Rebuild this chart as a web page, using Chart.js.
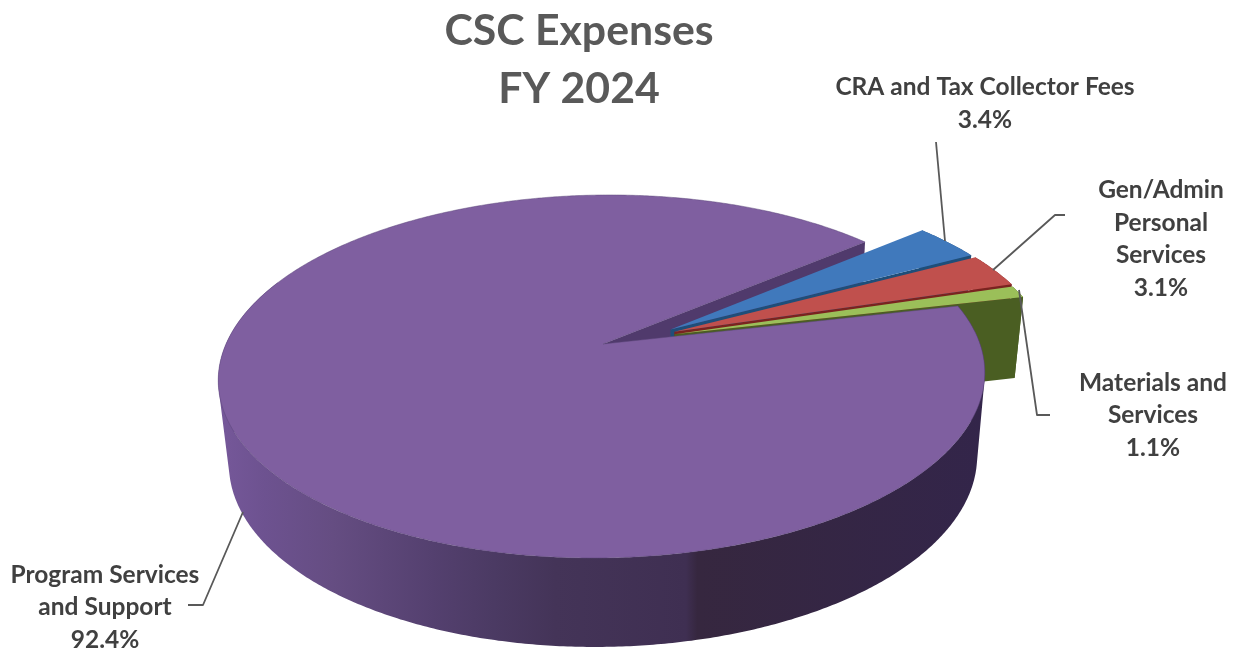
<!DOCTYPE html>
<html>
<head>
<meta charset="utf-8">
<style>html,body{margin:0;padding:0;background:#fff}canvas{display:block}</style>
<script src="https://cdn.jsdelivr.net/npm/chart.js@4"></script>
</head>
<body>
<canvas id="c" width="1241" height="649"></canvas>
<script>
const categories = ['Program Services and Support', 'CRA and Tax Collector Fees', 'Gen/Admin Personal Services', 'Materials and Services'];
const values = [92.4, 3.4, 3.1, 1.1];
const titleLines = ['CSC Expenses', 'FY 2024'];
const labelLines = [['Program Services', 'and Support'], ['CRA and Tax Collector Fees'], ['Gen/Admin', 'Personal', 'Services'], ['Materials and', 'Services']];
const colors = ['#7F5FA0', '#4079BC', '#C0504D', '#9BBF59'];
const wallColors = ['#43325a', '#1F4E79', '#7A2320', '#4A5E22'];

// Perspective maps of the pie's top and bottom faces (unit circle -> screen)
const K = 0.179;
const TOP = {x:603, y:344, a:377, b:175.7, s:-8};
const BOT = {x:604.5, y:426.5, a:368, b:181, s:-8};
// explosion of each slice, in unit-circle coordinates
const EXPLODE = [[0,0],[0.18,-0.084],[0.19,-0.07],[0.19,-0.056]];
// label anchors
const LABEL_POS = [
  {x:105, y:575, step:32.5},
  {x:985, y:87, step:33},
  {x:1161, y:190, step:32.7},
  {x:1153, y:383, step:32.5}
];
const LEADERS = [
  [[188,605],[203,605],[243,512]],
  [[936,142],[945,241]],
  [[1065,215],[1055,215],[993,270]],
  [[1050,415],[1037,415],[1019,290]]
];

function proj(m,u,v){const w=1-K*v;return [m.x+(m.a*u+m.s*v)/w, m.y+m.b*v/w];}
function arcPts(m,s,e,o){
  const pts=[],n=Math.max(2,Math.ceil(Math.abs(e-s)/(Math.PI/360)));
  for(let i=0;i<=n;i++){const t=s+(e-s)*i/n;pts.push(proj(m,Math.cos(t)+o[0],Math.sin(t)+o[1]));}
  return pts;
}
function fillPoly(ctx,pts,fill,stroke,lw){
  ctx.beginPath();pts.forEach((p,i)=>i?ctx.lineTo(p[0],p[1]):ctx.moveTo(p[0],p[1]));ctx.closePath();
  ctx.fillStyle=fill;ctx.fill();
  if(stroke){ctx.strokeStyle=stroke;ctx.lineWidth=lw||0.8;ctx.stroke();}
}
function cutWall(ctx,ang,o,fill){
  const c=[Math.cos(ang)+o[0],Math.sin(ang)+o[1]];
  fillPoly(ctx,[proj(TOP,o[0],o[1]),proj(TOP,c[0],c[1]),proj(BOT,c[0],c[1]),proj(BOT,o[0],o[1])],fill);
}
function topFace(ctx,a,o,fill,stroke){
  fillPoly(ctx,[proj(TOP,o[0],o[1])].concat(arcPts(TOP,a.startAngle,a.endAngle,o)),fill,stroke);
}
function area(q){let s=0;q.forEach((p,i)=>{const r=q[(i+1)%q.length];s+=p[0]*r[1]-r[0]*p[1];});return s;}
function outerWall(ctx,a,o,fill){
  // only the part of the rim that faces the viewer: one path of same-oriented quads,
  // so the fold at the silhouette stays filled and no seams appear
  const end=Math.min(a.endAngle,a.startAngle+215*Math.PI/180);
  const t=arcPts(TOP,a.startAngle,end,o), b=arcPts(BOT,a.startAngle,end,o);
  ctx.beginPath();
  for(let i=0;i<t.length-1;i++){
    let q=[t[i],t[i+1],b[i+1],b[i]];
    if(area(q)<0) q=q.reverse();
    q.forEach((p,j)=>j?ctx.lineTo(p[0],p[1]):ctx.moveTo(p[0],p[1]));
    ctx.closePath();
  }
  ctx.fillStyle=fill;ctx.fill('nonzero');
}

const pie3d = {
  id:'pie3d',
  beforeDatasetsDraw(chart){
    const ctx=chart.ctx, arcs=chart.getDatasetMeta(0).data;
    const g=ctx.createLinearGradient(218,0,985,0);
    [[0,'#76589a'],[0.06,'#6d5290'],[0.15,'#654d82'],[0.28,'#54406f'],[0.36,'#4b3a63'],[0.44,'#443458'],[0.61,'#3f2f52'],[0.625,'#36273f'],[1,'#33254a']]
      .forEach(s=>g.addColorStop(s[0],s[1]));
    ctx.save();
    cutWall(ctx,arcs[0].endAngle,EXPLODE[0],'#503a6c');
    for(let i=1;i<arcs.length;i++){
      outerWall(ctx,arcs[i],EXPLODE[i],wallColors[i]);
      cutWall(ctx,arcs[i].endAngle,EXPLODE[i],wallColors[i]);
      topFace(ctx,arcs[i],EXPLODE[i],colors[i]);
    }
    outerWall(ctx,arcs[0],EXPLODE[0],g);
    topFace(ctx,arcs[0],EXPLODE[0],colors[0],'rgba(90,70,120,0.6)');
    ctx.restore();
    return false;
  },
  afterDraw(chart){
    const ctx=chart.ctx;
    ctx.save();
    ctx.strokeStyle='#595959';ctx.lineWidth=1.8;ctx.lineJoin='round';
    LEADERS.forEach(l=>{ctx.beginPath();l.forEach((p,i)=>i?ctx.lineTo(p[0],p[1]):ctx.moveTo(p[0],p[1]));ctx.stroke();});
    ctx.fillStyle='#404040';ctx.font='bold 24.5px Lato';ctx.textAlign='center';ctx.textBaseline='middle';
    categories.forEach((c,i)=>{
      const p=LABEL_POS[i];
      const lines=labelLines[i].concat([values[i].toFixed(1)+'%']);
      lines.forEach((t,j)=>ctx.fillText(t,p.x,p.y+j*p.step));
    });
    ctx.restore();
  }
};

new Chart(document.getElementById('c'),{
  type:'pie',
  data:{labels:categories,datasets:[{data:values,backgroundColor:colors,borderWidth:0}]},
  options:{
    responsive:false,animation:false,rotation:77,events:[],
    layout:{padding:{right:83}},
    plugins:{
      legend:{display:false},tooltip:{enabled:false},
      title:{display:true,text:titleLines,color:'#595959',font:{family:'Lato',size:42.8,weight:'bold',lineHeight:1.355},padding:{top:2,bottom:0}}
    }
  },
  plugins:[pie3d]
});
</script>
</body>
</html>
